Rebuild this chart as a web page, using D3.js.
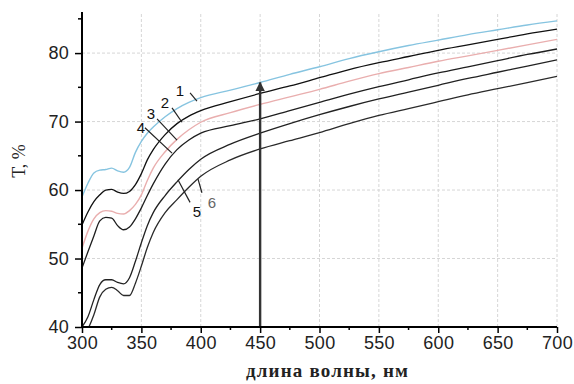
<!DOCTYPE html>
<html><head><meta charset="utf-8">
<script src="https://cdn.jsdelivr.net/npm/d3@7"></script>
<style>body{margin:0;background:#fff}svg{display:block}</style>
</head><body>
<svg id="chart" width="574" height="384"></svg>
<script>
const wavelengths = [300,305,310,315,320,325,330,335,340,345,350,355,360,370,380,390,400,425,450,475,500,525,550,575,600,625,650,675,700];
const curve1 = [59.0,61.0,62.5,62.9,63.0,63.2,62.8,62.6,63.3,65.5,67.1,68.3,69.2,70.7,71.9,72.8,73.5,74.6,75.7,76.9,78.0,79.2,80.2,81.1,81.9,82.7,83.4,84.1,84.7];
const curve2 = [54.9,56.8,58.3,59.3,60.0,60.1,59.7,59.5,59.8,60.8,62.4,64.4,65.9,68.1,69.7,70.8,71.6,72.9,74.1,75.2,76.4,77.6,78.6,79.5,80.4,81.2,82.0,82.8,83.5];
const curve3 = [51.5,54.0,55.8,56.7,57.0,56.9,56.6,56.5,57.0,57.9,59.3,61.4,63.2,65.6,67.4,68.8,69.9,71.3,72.5,73.6,74.7,75.9,77.0,77.9,78.8,79.6,80.4,81.2,82.0];
const curve4 = [48.6,51.0,53.3,55.5,56.0,55.9,54.8,54.2,54.6,55.8,57.4,59.2,60.9,63.8,65.9,67.3,68.3,69.4,70.4,71.6,72.8,74.0,75.1,76.1,77.1,78.0,78.9,79.8,80.6];
const curve5 = [40.0,41.5,44.0,46.2,46.9,46.9,46.5,46.3,47.2,49.6,52.3,54.8,56.7,59.2,61.2,63.0,64.5,66.7,68.3,69.7,71.0,72.2,73.3,74.3,75.3,76.3,77.2,78.1,79.0];
const curve6 = [38.3,39.7,41.8,44.4,45.5,45.8,45.3,44.6,44.6,46.4,48.9,51.6,53.8,56.7,58.6,60.4,62.0,64.4,66.0,67.2,68.4,69.7,70.9,71.9,72.9,73.9,74.8,75.7,76.6];
const seriesNames = ["1","2","3","4","5","6"];
const seriesColors = ["#86c4e0","#111111","#e9aeae","#1e1e1e","#222222","#2a2a2a"];
const xTicks = [300,350,400,450,500,550,600,650,700];
const yTicks = [40,50,60,70,80];
const xLabel = "длина волны, нм";
const yLabel = "T, %";
// curve labels: text position and leader line [x1,y1,x2,y2] in data units
const labelText = ["1","2","3","4","5","6"];
const labelPos = [[382.5,74.6],[369.9,72.8],[358.1,71.2],[349.7,69.2],[396.8,56.9],[409.5,58.2]];
const labelLeaders = [[391,74.2,396.8,73.0],[375.8,72.0,384.2,69.9],[363.2,70.4,380,67.3],[353,69.1,375.8,65.4],[391,58.2,380.8,61.5],[401,59.6,397.7,61.6]];
const labelColors = ["#111","#111","#111","#111","#111","#666"];
const arrowX = 450, arrowTop = 75.7;

const svg = d3.select("#chart");
const x = d3.scaleLinear().domain([300,700]).range([82,557]);
const y = d3.scaleLinear().domain([40,86]).range([327,12]);

// gridlines
const grid = svg.append("g");
grid.selectAll("line.v").data(xTicks.filter(d=>d>300)).join("line")
  .attr("x1",d=>x(d)).attr("x2",d=>x(d)).attr("y1",y(40)).attr("y2",y(86))
  .attr("stroke","#d6d6d6").attr("stroke-width",1).attr("stroke-dasharray","3,2");
grid.selectAll("line.h").data(yTicks.filter(d=>d>40)).join("line")
  .attr("x1",x(300)).attr("x2",x(700)).attr("y1",d=>y(d)).attr("y2",d=>y(d))
  .attr("stroke","#d6d6d6").attr("stroke-width",1).attr("stroke-dasharray","3,2");

svg.append("clipPath").attr("id","clip").append("rect")
  .attr("x",x(300)).attr("y",y(86)).attr("width",x(700)-x(300)).attr("height",y(40)-y(86));

const allSeries = [curve1,curve2,curve3,curve4,curve5,curve6];
const line = d3.line().x((d,i)=>x(wavelengths[i])).y(d=>y(d)).curve(d3.curveMonotoneX);
const lines = svg.append("g").attr("clip-path","url(#clip)");
lines.selectAll("path").data(allSeries).join("path")
  .attr("d",line).attr("fill","none")
  .attr("stroke",(d,i)=>seriesColors[i]).attr("stroke-width",(d,i)=>i===0||i===2?1.4:1.3);

// arrow
svg.append("defs").append("marker").attr("id","ah").attr("viewBox","0 0 10 10")
  .attr("refX",9).attr("refY",5).attr("markerWidth",4).attr("markerHeight",4).attr("orient","auto")
  .append("path").attr("d","M0,0L10,5L0,10z").attr("fill","#333");
svg.append("line").attr("x1",x(arrowX)).attr("x2",x(arrowX)).attr("y1",y(40)).attr("y2",y(arrowTop))
  .attr("stroke","#333").attr("stroke-width",2.4).attr("marker-end","url(#ah)");

// axes
const xAxis = d3.axisBottom(x).tickValues(xTicks).tickSize(6).tickPadding(3).tickFormat(d3.format("d"));
const gx = svg.append("g").attr("transform",`translate(0,${y(40)})`).call(xAxis);
const xMinor = d3.range(325,700,50);
gx.selectAll("line.minor").data(xMinor).join("line").attr("class","minor")
  .attr("x1",d=>x(d)).attr("x2",d=>x(d)).attr("y1",0).attr("y2",3).attr("stroke","#000").attr("stroke-width",1.5);
const yAxis = d3.axisLeft(y).tickValues(yTicks).tickSize(7).tickPadding(6);
const gy = svg.append("g").attr("transform",`translate(${x(300)},0)`).call(yAxis);
const yMinor = [45,55,65,75,85];
gy.selectAll("line.minor").data(yMinor).join("line").attr("class","minor")
  .attr("x1",-4).attr("x2",0).attr("y1",d=>y(d)).attr("y2",d=>y(d)).attr("stroke","#000").attr("stroke-width",1.5);
[gx,gy].forEach(g=>{
  g.select(".domain").attr("stroke","#000").attr("stroke-width",2);
  g.selectAll(".tick line").attr("stroke","#000").attr("stroke-width",1.5);
  g.selectAll(".tick text").attr("font-family","Liberation Sans, Arial, sans-serif")
    .attr("font-size",18).attr("fill","#222").attr("letter-spacing","0.3px");
});
gx.select(".domain").attr("d",`M${x(300)},0H${x(700)}`);
gy.select(".domain").attr("d",`M0,${y(40)}V${y(86)}`);

// curve labels
const lab = svg.append("g");
lab.selectAll("line").data(labelLeaders).join("line")
  .attr("x1",d=>x(d[0])).attr("y1",d=>y(d[1])).attr("x2",d=>x(d[2])).attr("y2",d=>y(d[3]))
  .attr("stroke","#222").attr("stroke-width",1.2);
lab.selectAll("text").data(labelText).join("text")
  .attr("x",(d,i)=>x(labelPos[i][0])).attr("y",(d,i)=>y(labelPos[i][1]))
  .attr("text-anchor","middle").attr("dominant-baseline","central")
  .attr("font-family","Liberation Sans, Arial, sans-serif").attr("font-size",15)
  .attr("fill",(d,i)=>labelColors[i]).text(d=>d);

// axis titles
svg.append("text").attr("x",327).attr("y",377).attr("text-anchor","middle")
  .attr("font-family","Liberation Serif, Times New Roman, serif").attr("font-weight","bold")
  .attr("font-size",19).attr("fill","#222").attr("textLength",162).attr("lengthAdjust","spacing").text(xLabel);
svg.append("text").attr("transform","translate(25,161) rotate(-90)").attr("text-anchor","middle")
  .attr("font-family","Liberation Serif, Times New Roman, serif")
  .attr("font-size",18).attr("fill","#222").text(yLabel);
</script>
</body></html>
